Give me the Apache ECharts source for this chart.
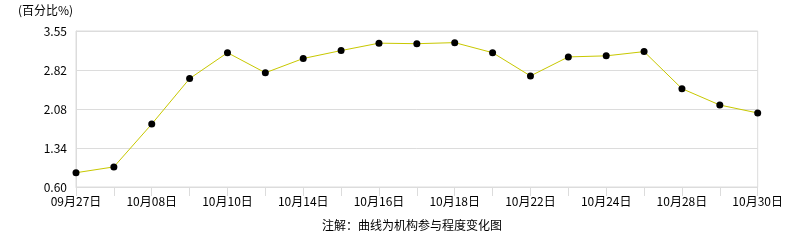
<!DOCTYPE html>
<html>
<head>
<meta charset="utf-8">
<script src="https://cdn.jsdelivr.net/npm/echarts@6/dist/echarts.min.js"></script>
<style>
html,body{margin:0;padding:0;background:#fff;}
#main{width:786px;height:240px;}
</style>
</head>
<body>
<div id="main"></div>
<script>
var categories = ['09月27日','09月30日','10月08日','10月09日','10月10日','10月11日','10月14日','10月15日','10月16日','10月17日','10月18日','10月21日','10月22日','10月23日','10月24日','10月25日','10月28日','10月29日','10月30日'];
var values = [0.87, 0.98, 1.79, 2.65, 3.14, 2.76, 3.03, 3.18, 3.32, 3.31, 3.33, 3.14, 2.70, 3.06, 3.08, 3.16, 2.46, 2.15, 2.00];
var tickValues = [0.6, 1.3375, 2.075, 2.8125, 3.55];
var tickLabels = ['0.60', '1.34', '2.08', '2.82', '3.55'];
var unitLabel = '(百分比%)';
var noteLabel = '注解：曲线为机构参与程度变化图';

var font = '"Noto Sans CJK SC", "DejaVu Sans", sans-serif';
var chart = echarts.init(document.getElementById('main'), null, {renderer: 'canvas'});
chart.setOption({
  animation: false,
  backgroundColor: '#fff',
  textStyle: {fontFamily: font},
  graphic: [
    {type: 'text', left: 18, top: 4, style: {text: unitLabel, font: '12px ' + font, fill: '#000'}},
    {type: 'text', left: 322, top: 219, style: {text: noteLabel, font: '12px ' + font, fill: '#000'}}
  ],
  grid: {left: 76, right: 26, top: 31, bottom: 53, show: true, borderColor: '#dcdcdc', borderWidth: 1},
  xAxis: {
    type: 'category',
    data: categories,
    boundaryGap: false,
    axisLine: {lineStyle: {color: '#dcdcdc', width: 1}},
    axisTick: {show: true, interval: 0, length: 9, lineStyle: {color: '#dcdcdc'}},
    axisLabel: {interval: 1, color: '#000', fontSize: 12, margin: 8, fontFamily: font},
    splitLine: {show: false}
  },
  yAxis: {
    type: 'value',
    min: tickValues[0],
    max: tickValues[tickValues.length - 1],
    axisLine: {show: true, lineStyle: {color: '#dcdcdc'}},
    axisTick: {show: false, customValues: tickValues},
    axisLabel: {
      customValues: tickValues,
      color: '#000', fontSize: 12, margin: 9, fontFamily: font,
      formatter: function (v) {
        for (var i = 0; i < tickValues.length; i++) {
          if (Math.abs(v - tickValues[i]) < 1e-6) return tickLabels[i];
        }
        return '';
      }
    },
    splitLine: {show: true, lineStyle: {color: '#dcdcdc', width: 1}}
  },
  series: [{
    type: 'line',
    data: values,
    symbol: 'circle',
    symbolSize: 7,
    itemStyle: {color: '#000'},
    lineStyle: {color: '#c8c800', width: 1},
    emphasis: {disabled: true}
  }]
});
</script>
</body>
</html>
